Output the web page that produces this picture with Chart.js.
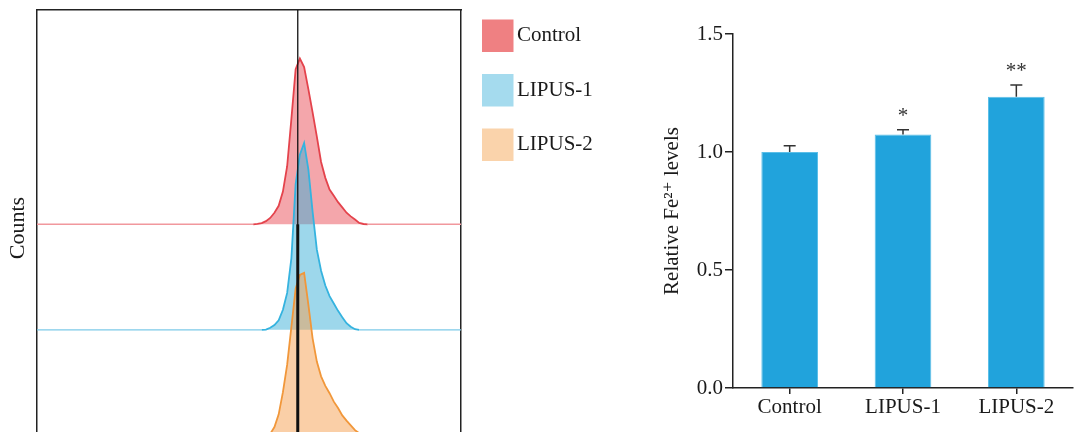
<!DOCTYPE html>
<html>
<head>
<meta charset="utf-8">
<script src="https://cdn.jsdelivr.net/npm/chart.js@4"></script>
<style>
    html, body { margin:0; padding:0; background:#fff; overflow:hidden; width:1074px; height:432px; }
    #histogram { position:absolute; left:0; top:0; }
    #fe2_levels { position:absolute; left:620px; top:0; }
</style>
</head>
<body>
<canvas id="histogram" width="620" height="460"></canvas>
<canvas id="fe2_levels" width="454" height="432"></canvas>
<script>
// histogram (flow cytometry), counts given as % of one offset band
var channels      = [50,51,52,53,54,55,56,57,58,59,60,61,62,63,64,65,66,67,68,69,70,71,72,73,74,75,76,77,78];
var controlCounts = [0,0,0.4,1.2,3,6,11,17.5,31,55,100,147,157,149,128,106,83,59,44,33,27,21,16,11,7.5,4.5,1.3,0.3,0];
var lipus1Counts  = [0,0,0,0,0.3,2,4.5,9,19,35,68,138,166,177,152,112,76,56,42,32,25,18,12,6.3,3,0.6,0,0,0];
var lipus2Counts  = [0,0,0,0,0,1.5,8,20,41,67,103,139,152,154,124,92,70,56,47,40,32,26,19,14,9.5,5,2,0.5,0];
var seriesNames   = ['Control', 'LIPUS-1', 'LIPUS-2'];
var markerChannel = 61.5;

// bar chart
var barLabels = ['Control', 'LIPUS-1', 'LIPUS-2'];
var fe2Levels = [1.0, 1.074, 1.234];
var fe2Errors = [0.027, 0.02, 0.05];
var sigMarks  = ['', '*', '**'];
var yTicks    = [0, 0.5, 1.0, 1.5];

var SERIF = '"Liberation Serif", "DejaVu Serif", serif';
Chart.defaults.font.family = SERIF;
Chart.defaults.color = '#1a1a1a';

var lineColors   = ['#e4434c', '#35b3df', '#f1973a'];
var fillColors   = ['rgba(231,70,80,0.48)', 'rgba(60,175,215,0.5)', 'rgba(245,160,80,0.5)'];
var baseColors   = ['#f1989d', '#7ccae8', '#f6c08c'];
var swatchColors = ['#ef8082', '#a5dbee', '#fad3ab'];
var histYMin = -0.1, histYMax = 4.03, bandCounts = 100;

function histogramSet(counts, i){
    var offset = 2 - i;
    var pts = [{x:0, y:offset}];
    for(let k=0; k<channels.length; k++){
        pts.push({x:channels[k], y:offset + counts[k]/bandCounts});
    }
    pts.push({x:100, y:offset});
    function flat(c){ return c.p0.parsed.y === offset && c.p1.parsed.y === offset; }
    return {
        label:seriesNames[i],
        data:pts,
        order:3 - i,
        borderColor:lineColors[i],
        borderWidth:1.8,
        backgroundColor:fillColors[i],
        fill:{value:offset},
        pointRadius:0,
        tension:0,
        segment:{
            borderColor:function(c){ return flat(c) ? baseColors[i] : lineColors[i]; },
            borderWidth:function(c){ return flat(c) ? 1.4 : 1.8; }
        }
    };
}

var histLegend = {
    id:'histLegend',
    afterDraw:function(chart){
        var ctx = chart.ctx, x = chart.chartArea.right + 21;
        ctx.save();
        ctx.font = '21px ' + SERIF;
        ctx.textBaseline = 'middle';
        ctx.textAlign = 'left';
        for(let i=0; i<seriesNames.length; i++){
            var y = 19.5 + i*54.5;
            ctx.fillStyle = swatchColors[i];
            ctx.fillRect(x, y, 31.5, 32.5);
            ctx.fillStyle = '#1a1a1a';
            ctx.fillText(seriesNames[i], x + 35, y + 16);
        }
        ctx.restore();
    }
};

var frameBorder = {display:true, color:'#222', width:1.5};
var hidden = {ticks:{display:false}, grid:{display:false, drawTicks:false}, border:frameBorder};

var datasets = [0,1,2].map(function(i){ return histogramSet([controlCounts, lipus1Counts, lipus2Counts][i], i); });
datasets.push({
    data:[{x:markerChannel, y:histYMin}, {x:markerChannel, y:histYMax}],
    borderColor:'#111', borderWidth:1.3, pointRadius:0, fill:false, order:0
});
datasets.push({
    data:[{x:markerChannel, y:histYMin}, {x:markerChannel, y:2}],
    borderColor:'#111', borderWidth:3, pointRadius:0, fill:false, order:0
});

new Chart(document.getElementById('histogram'), {
    type:'line',
    data:{datasets:datasets},
    options:{
        responsive:false,
        animation:false,
        devicePixelRatio:1,
        layout:{padding:{top:10, right:159, bottom:14, left:0}},
        plugins:{legend:{display:false}, tooltip:{enabled:false}},
        scales:{
            x:Object.assign({type:'linear', min:0, max:100}, hidden),
            x2:Object.assign({type:'linear', position:'top', min:0, max:100}, hidden),
            y2:Object.assign({type:'linear', position:'right', min:histYMin, max:histYMax}, hidden),
            y:{
                type:'linear', min:histYMin, max:histYMax,
                afterFit:function(s){ s.width = 37; },
                ticks:{display:false},
                grid:{display:false, drawTicks:false},
                border:frameBorder,
                title:{display:true, text:'Counts', font:{size:22}, color:'#1a1a1a', padding:{top:5, bottom:0}}
            }
        }
    },
    plugins:[histLegend]
});

var errorBars = {
    id:'errorBars',
    afterDatasetsDraw:function(chart){
        var ctx = chart.ctx, meta = chart.getDatasetMeta(0), ys = chart.scales.y;
        ctx.save();
        ctx.strokeStyle = '#333';
        ctx.lineWidth = 1.5;
        ctx.fillStyle = '#333';
        ctx.font = '21px ' + SERIF;
        ctx.textAlign = 'center';
        ctx.textBaseline = 'alphabetic';
        meta.data.forEach(function(bar, i){
            var top = ys.getPixelForValue(fe2Levels[i] + fe2Errors[i]);
            ctx.beginPath();
            ctx.moveTo(bar.x, bar.y);
            ctx.lineTo(bar.x, top);
            ctx.moveTo(bar.x - 6, top);
            ctx.lineTo(bar.x + 6, top);
            ctx.stroke();
            if(sigMarks[i]){
                ctx.fillText(sigMarks[i], bar.x, top - 8);
            }
        });
        ctx.restore();
    }
};

new Chart(document.getElementById('fe2_levels'), {
    type:'bar',
    data:{
        labels:barLabels,
        datasets:[{
            data:fe2Levels,
            backgroundColor:'#21a3dc',
            borderColor:'#5bbfe8',
            borderWidth:1,
            barPercentage:0.5,
            categoryPercentage:1
        }]
    },
    options:{
        responsive:false,
        animation:false,
        devicePixelRatio:1,
        layout:{padding:{top:34, right:1, left:0, bottom:0}},
        plugins:{legend:{display:false}, tooltip:{enabled:false}},
        scales:{
            x:{
                offset:true,
                afterFit:function(s){ s.height = 44; },
                grid:{display:true, offset:false, drawOnChartArea:false, tickLength:6, color:'#222', lineWidth:1.5},
                border:{display:true, color:'#222', width:1.5},
                ticks:{font:{size:21}, color:'#1a1a1a', padding:1}
            },
            y:{
                min:0, max:1.5,
                afterFit:function(s){ s.width = 113; },
                afterBuildTicks:function(s){ s.ticks = yTicks.map(function(v){ return {value:v}; }); },
                ticks:{font:{size:21}, color:'#1a1a1a', padding:2, callback:function(v){ return v.toFixed(1); }},
                grid:{display:true, drawOnChartArea:false, tickLength:8, color:'#222', lineWidth:1.5},
                border:{display:true, color:'#222', width:1.5},
                title:{display:true, text:'Relative Fe\u00b2\u207a levels', font:{size:21}, color:'#1a1a1a', padding:{top:40, bottom:0}}
            }
        }
    },
    plugins:[errorBars]
});
</script>
</body>
</html>
